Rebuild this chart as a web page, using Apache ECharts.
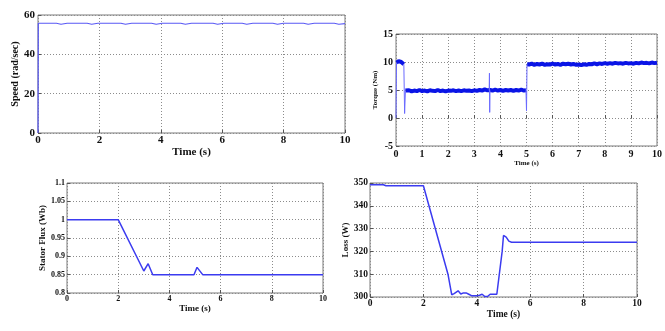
<!DOCTYPE html>
<html>
<head>
<meta charset="utf-8">
<script src="https://cdn.jsdelivr.net/npm/echarts@6/dist/echarts.min.js"></script>
<style>
  html, body { margin: 0; padding: 0; background: #fff; }
  #chart { width: 665px; height: 331px; }
</style>
</head>
<body>
<div id="chart"></div>
<script>
// speed (rad/sec)
var speedTime = [0, 0.01, 0.6, 0.75, 0.95, 1.6, 1.75, 1.95, 2.7, 2.85, 3.05, 3.7, 3.85, 4.05, 4.65, 4.8, 5.0, 5.7, 5.85, 6.05, 6.65, 6.8, 7.0, 7.65, 7.8, 8.0, 8.65, 8.8, 9.0, 9.65, 9.8, 10];
var speedVal = [0, 55.8, 55.8, 55.3, 55.8, 55.8, 55.3, 55.8, 55.8, 55.3, 55.8, 55.8, 55.3, 55.8, 55.8, 55.3, 55.8, 55.8, 55.3, 55.8, 55.8, 55.3, 55.8, 55.8, 55.3, 55.8, 55.8, 55.3, 55.8, 55.8, 55.3, 55.6];

// torque (Nm) - noisy band, null = break
var torqueTime = [0.02, 0.05, 0.1, 0.15, 0.2, 0.25, 0.3, 0.31,
  0.36, 0.4, 0.5, 0.6, 0.7, 0.8, 0.9, 1.0, 1.1, 1.2, 1.3, 1.4, 1.5, 1.6, 1.7, 1.8, 1.9, 2.0, 2.1, 2.2, 2.3, 2.4, 2.5, 2.6, 2.7, 2.8, 2.9,
  3.0, 3.1, 3.2, 3.3, 3.4, 3.5, 3.6, 3.7, 3.8, 3.9, 4.0, 4.1, 4.2, 4.3, 4.4, 4.5, 4.6, 4.7, 4.8, 4.9, 4.98, 4.99,
  5.02, 5.1, 5.2, 5.3, 5.4, 5.5, 5.6, 5.7, 5.8, 5.9, 6.0, 6.1, 6.2, 6.3, 6.4, 6.5, 6.6, 6.7, 6.8, 6.9, 7.0, 7.1, 7.2, 7.3, 7.4,
  7.5, 7.6, 7.7, 7.8, 7.9, 8.0, 8.1, 8.2, 8.3, 8.4, 8.5, 8.6, 8.7, 8.8, 8.9, 9.0, 9.1, 9.2, 9.3, 9.4, 9.5, 9.6, 9.7, 9.8, 9.9, 10];
var torqueVal = [9.9, 10.2, 10.15, 10.1, 10.0, 9.9, 9.6, null,
  4.9, 4.8, 4.95, 4.75, 4.9, 4.8, 5.0, 4.8, 4.9, 4.75, 4.95, 4.85, 4.8, 5.0, 4.8, 4.9, 4.75, 4.9, 4.85, 4.95, 4.8, 4.9, 4.8, 4.95, 4.85, 4.9, 4.8,
  4.95, 4.85, 5.0, 4.9, 5.1, 4.95, 5.0, 4.9, 5.05, 4.9, 5.0, 4.85, 5.0, 4.9, 5.0, 4.85, 5.0, 4.9, 5.05, 4.9, 4.95, null,
  9.6, 9.55, 9.7, 9.5, 9.65, 9.55, 9.7, 9.5, 9.6, 9.55, 9.7, 9.55, 9.65, 9.5, 9.7, 9.6, 9.7, 9.55, 9.65, 9.5, 9.55, 9.45, 9.6, 9.5, 9.65,
  9.6, 9.75, 9.6, 9.75, 9.65, 9.8, 9.7, 9.8, 9.7, 9.85, 9.75, 9.8, 9.7, 9.85, 9.75, 9.8, 9.7, 9.85, 9.75, 9.9, 9.8, 9.85, 9.75, 9.9, 9.8, 9.85];
// thin transients
var spikeTime = [0, 0.02, 0.021, 0.3, 0.33, 0.36, 0.37, 3.57, 3.58, 3.59, 3.6, 3.61, 4.98, 5.0, 5.02];
var spikeVal = [0, 9.9, null, 9.6, 0.8, 4.9, null, 4.9, 8.0, 1.0, 4.9, null, 4.95, 1.3, 9.6];

// stator flux (Wb)
var fluxTime = [0, 2, 3, 3.17, 3.35, 4.96, 5.08, 5.3, 10];
var fluxVal = [1, 1, 0.86, 0.88, 0.85, 0.85, 0.87, 0.85, 0.85];

// loss (W)
var lossTime = [0, 0.5, 0.6, 2.0, 2.92, 3.06, 3.15, 3.3, 3.4, 3.5, 3.6, 3.7, 3.8, 4.0, 4.1, 4.2, 4.3, 4.4, 4.5, 4.75, 4.95, 5.0, 5.1, 5.2, 5.3, 10];
var lossVal = [349.2, 349.2, 348.8, 348.8, 310, 301, 301.5, 302.7, 301.3, 301.8, 301.8, 301.2, 300.6, 300.5, 300.8, 301.2, 300.2, 300.2, 301.2, 301.2, 320, 327, 326.3, 324.5, 324, 324];

function pairs(t, v) {
  return t.map(function (x, i) { return [x, v[i]]; });
}

var font = "Liberation Serif";
var gridLine = { show: true, lineStyle: { color: "#8c8c8c", type: [1, 2], width: 1 } };

function xAx(idx, interval, fs, nameFs, nameGap, margin) {
  return {
    gridIndex: idx, type: "value", min: 0, max: 10, interval: interval,
    name: "Time (s)", nameLocation: "middle", nameGap: nameGap,
    nameTextStyle: { fontFamily: font, fontWeight: "bold", fontSize: nameFs, color: "#111" },
    axisLine: { show: false },
    axisTick: { show: true, inside: true, length: 3, lineStyle: { color: "#555" } },
    axisLabel: { fontFamily: font, fontWeight: "bold", fontSize: fs, color: "#111", margin: margin },
    splitLine: gridLine
  };
}

function yAx(idx, name, min, max, interval, fs, nameFs, nameGap, margin) {
  return {
    gridIndex: idx, type: "value", min: min, max: max, interval: interval,
    name: name, nameLocation: "middle", nameGap: nameGap, nameRotate: 90,
    nameTextStyle: { fontFamily: font, fontWeight: "bold", fontSize: nameFs, color: "#111" },
    axisLine: { show: false },
    axisTick: { show: true, inside: true, length: 3, lineStyle: { color: "#555" } },
    axisLabel: { fontFamily: font, fontWeight: "bold", fontSize: fs, color: "#111", margin: margin },
    splitLine: gridLine
  };
}

var box = { show: true, borderColor: "#7a7a7a", borderWidth: 1, backgroundColor: "#fff" };

var option = {
  animation: false,
  backgroundColor: "#fff",
  grid: [
    Object.assign({ left: 38, top: 15, width: 307, height: 118 }, box),
    Object.assign({ left: 396, top: 34, width: 263, height: 112 }, box),
    Object.assign({ left: 67, top: 183, width: 256, height: 110 }, box),
    Object.assign({ left: 370, top: 183, width: 267, height: 114 }, box)
  ],
  xAxis: [
    xAx(0, 2, 11, 11, 13, 2),
    xAx(1, 1, 10, 7, 9, 3),
    xAx(2, 2, 8, 9, 10, 2),
    xAx(3, 2, 9.5, 9.5, 11, 2)
  ],
  yAxis: [
    yAx(0, "Speed (rad/sec)", 0, 60, 20, 11, 10, 17, 3),
    yAx(1, "Torque (Nm)", -5, 15, 5, 10, 7, 12, 3),
    yAx(2, "Stator Flux (Wb)", 0.8, 1.1, 0.05, 8, 9, 19, 2),
    yAx(3, "Loss (W)", 300, 350, 10, 9.5, 9, 18, 2)
  ],
  series: [
    {
      name: "speed", type: "line", xAxisIndex: 0, yAxisIndex: 0, symbol: "none",
      lineStyle: { color: "#5a5af5", width: 1.2 }, data: pairs(speedTime, speedVal)
    },
    {
      name: "torque", type: "line", xAxisIndex: 1, yAxisIndex: 1, symbol: "none",
      connectNulls: false, lineStyle: { color: "#0a14e6", width: 4 }, data: pairs(torqueTime, torqueVal)
    },
    {
      name: "torque transient", type: "line", xAxisIndex: 1, yAxisIndex: 1, symbol: "none",
      connectNulls: false, lineStyle: { color: "#6a6aff", width: 1 }, data: pairs(spikeTime, spikeVal)
    },
    {
      name: "flux", type: "line", xAxisIndex: 2, yAxisIndex: 2, symbol: "none",
      lineStyle: { color: "#3b3bf0", width: 1.5 }, data: pairs(fluxTime, fluxVal)
    },
    {
      name: "loss", type: "line", xAxisIndex: 3, yAxisIndex: 3, symbol: "none",
      lineStyle: { color: "#3b3bf0", width: 1.5 }, data: pairs(lossTime, lossVal)
    }
  ]
};

echarts.init(document.getElementById("chart")).setOption(option, true);
</script>
</body>
</html>
